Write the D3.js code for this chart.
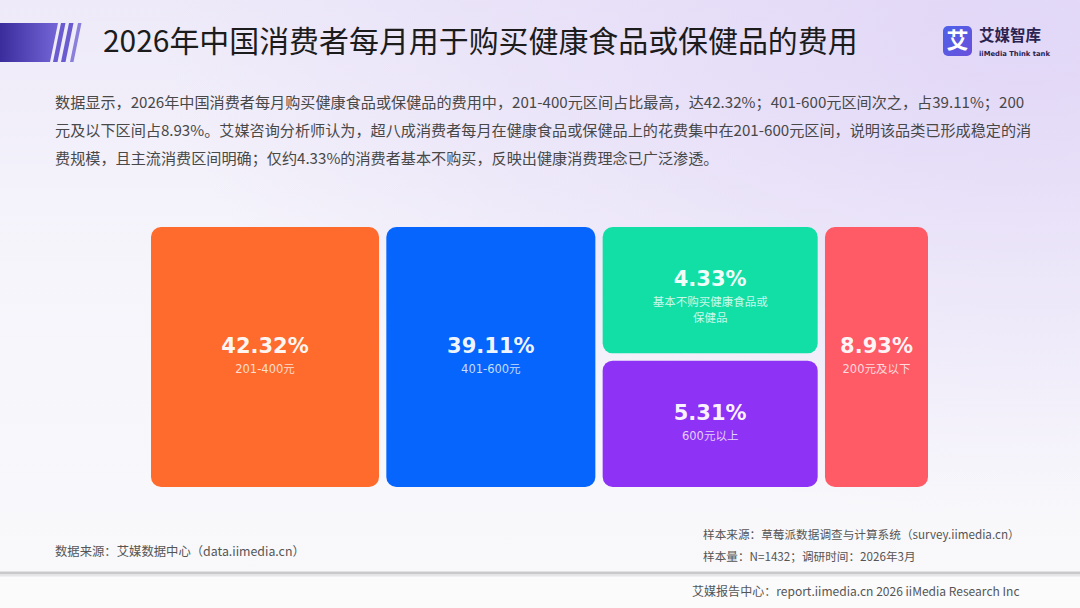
<!DOCTYPE html>
<html><head><meta charset="utf-8">
<script src="https://cdn.jsdelivr.net/npm/d3@7"></script>
<style>html,body{margin:0;padding:0;background:#fff;}svg{display:block;}</style>
</head><body>
<svg id="c" width="1080" height="608"></svg>
<script>
// ---- data ----
const categories = ['201-400元', '401-600元', '基本不购买健康食品或保健品', '600元以上', '200元及以下'];
const values = [42.32, 39.11, 4.33, 5.31, 8.93];
const colors = ['#FF6B2C', '#0565FD', '#12DFA6', '#8E33F6', '#FF5B66'];
const titleText = '2026年中国消费者每月用于购买健康食品或保健品的费用';
const paragraph = [
  '数据显示，2026年中国消费者每月购买健康食品或保健品的费用中，201-400元区间占比最高，达42.32%；401-600元区间次之，占39.11%；200',
  '元及以下区间占8.93%。艾媒咨询分析师认为，超八成消费者每月在健康食品或保健品上的花费集中在201-600元区间，说明该品类已形成稳定的消',
  '费规模，且主流消费区间明确；仅约4.33%的消费者基本不购买，反映出健康消费理念已广泛渗透。'
];
const sourceLeft = '数据来源：艾媒数据中心（data.iimedia.cn）';
const sourceRight = ['样本来源：草莓派数据调查与计算系统（survey.iimedia.cn）', '样本量：N=1432；调研时间：2026年3月'];
const footerText = '艾媒报告中心：report.iimedia.cn   2026 iiMedia Research Inc';

// ---- layout (column grouping and relative widths) ----
const columns = [{idx: [0], w: 228}, {idx: [1], w: 209}, {idx: [2, 3], w: 215}, {idx: [4], w: 103}];
const box = {x0: 151, x1: 928, y0: 227, y1: 487, gap: 7.3};

const svg = d3.select('#c');
const defs = svg.append('defs');
const CJK = '"Noto Sans CJK SC", "Noto Sans", sans-serif';

// background
const bg = defs.append('linearGradient').attr('id', 'bg').attr('x1', 0).attr('y1', 0).attr('x2', 0).attr('y2', 1);
bg.append('stop').attr('offset', 0).attr('stop-color', '#eeeaf9');
bg.append('stop').attr('offset', 0.45).attr('stop-color', '#f6f5fb');
bg.append('stop').attr('offset', 1).attr('stop-color', '#f9f9fb');
const bg2 = defs.append('radialGradient').attr('id', 'bg2').attr('cx', 0.95).attr('cy', 0.05).attr('r', 0.8);
bg2.append('stop').attr('offset', 0).attr('stop-color', '#e1d6f7').attr('stop-opacity', 0.95);
bg2.append('stop').attr('offset', 1).attr('stop-color', '#e1d6f7').attr('stop-opacity', 0);
svg.append('rect').attr('width', 1080).attr('height', 608).attr('fill', 'url(#bg)');
svg.append('rect').attr('width', 1080).attr('height', 608).attr('fill', 'url(#bg2)');
svg.append('rect').attr('y', 574).attr('width', 1080).attr('height', 34).attr('fill', '#fbfbfc');

// header bar
const hb = defs.append('linearGradient').attr('id', 'hb');
hb.append('stop').attr('offset', 0).attr('stop-color', '#3b2c9c');
hb.append('stop').attr('offset', 1).attr('stop-color', '#7466d6');
svg.append('path').attr('d', 'M0,23 L58,23 L50,62 L0,62 Z').attr('fill', 'url(#hb)');
[[61, 4.5, '#6a5bd0'], [69, 4.5, '#6a5bd0'], [78, 3.5, '#8a7fdb']].forEach(([x, w, c]) => {
  svg.append('path').attr('d', `M${x},23 L${x + w},23 L${x + w - 8},62 L${x - 8},62 Z`).attr('fill', c);
});

function fitText(sel, target) {
  const len = sel.node().getComputedTextLength();
  const fs = parseFloat(sel.attr('font-size'));
  sel.attr('font-size', fs * target / len);
  return fs * target / len;
}

// title
const title = svg.append('text').attr('x', 103).attr('y', 52).attr('font-family', CJK)
  .attr('font-size', 28).attr('fill', '#1c1c1c').text(titleText);
fitText(title, 755);

// logo
const lg = defs.append('linearGradient').attr('id', 'lg').attr('x1', 0).attr('y1', 0).attr('x2', 1).attr('y2', 1);
lg.append('stop').attr('offset', 0).attr('stop-color', '#4d63e8');
lg.append('stop').attr('offset', 1).attr('stop-color', '#6a4fdc');
svg.append('rect').attr('x', 943).attr('y', 26).attr('width', 29).attr('height', 30).attr('rx', 5).attr('fill', 'url(#lg)');
svg.append('text').attr('x', 957.5).attr('y', 48).attr('text-anchor', 'middle').attr('font-family', CJK)
  .attr('font-weight', 700).attr('font-size', 22).attr('fill', '#fff').text('艾');
const lt = svg.append('text').attr('x', 979).attr('y', 41).attr('font-family', CJK).attr('font-weight', 700)
  .attr('font-size', 16).attr('fill', '#2a2350').text('艾媒智库');
fitText(lt, 62);
const ls = svg.append('text').attr('x', 979).attr('y', 56).attr('font-family', '"DejaVu Sans", sans-serif').attr('font-weight', 700)
  .attr('font-size', 7).attr('fill', '#2a2350').text('iiMedia Think tank');
fitText(ls, 71);

// paragraph
const pTexts = svg.append('g').selectAll('text').data(paragraph).join('text')
  .attr('x', 55).attr('y', (d, i) => 108 + i * 28).attr('font-family', CJK)
  .attr('font-size', 14).attr('fill', '#484848').text(d => d);
{
  const n = pTexts.nodes()[0];
  const fs = 14 * 970 / n.getComputedTextLength();
  pTexts.attr('font-size', fs);
}

// ---- blocks ----
const cum = [0];
columns.forEach(c => cum.push(cum[cum.length - 1] + c.w));
const innerW = (box.x1 - box.x0) - box.gap * (columns.length - 1);
const xs = d3.scaleLinear().domain([0, cum[cum.length - 1]]).range([0, innerW]);
const cells = [];
columns.forEach((c, ci) => {
  const x = box.x0 + xs(cum[ci]) + ci * box.gap;
  const w = xs(c.w);
  const pad = c.idx.length > 1 ? box.gap / ((box.y1 - box.y0 + box.gap) / c.idx.length) : 0;
  const ys = d3.scaleBand().domain(c.idx).range([box.y0, box.y1]).paddingInner(pad).paddingOuter(0);
  c.idx.forEach(i => {
    cells.push({i, x, y: ys(i), w, h: ys.bandwidth(), cat: categories[i], val: values[i], color: colors[i]});
  });
});

const g = svg.append('g').selectAll('g').data(cells).join('g');
g.append('rect').attr('x', d => d.x).attr('y', d => d.y).attr('width', d => d.w).attr('height', d => d.h)
  .attr('rx', 10).attr('fill', d => d.color);
g.append('text').attr('x', d => d.x + d.w / 2).attr('y', d => d.y + d.h / 2 - 11)
  .attr('text-anchor', 'middle').attr('dominant-baseline', 'central')
  .attr('font-family', '"DejaVu Sans", sans-serif').attr('font-weight', 700).attr('font-size', 21)
  .attr('fill', '#fff').attr('fill-opacity', 0.95).text(d => d3.format('.2f')(d.val) + '%');
g.each(function (d) {
  const lines = [];
  for (let k = 0; k < d.cat.length; k += 10) lines.push(d.cat.slice(k, k + 10));
  d3.select(this).selectAll('text.lab').data(lines).join('text').attr('class', 'lab')
    .attr('x', d.x + d.w / 2).attr('y', (l, k) => d.y + d.h / 2 + 12 + k * 16)
    .attr('text-anchor', 'middle').attr('dominant-baseline', 'central')
    .attr('font-family', '"DejaVu Sans", "Noto Sans CJK SC", sans-serif').attr('font-size', 11.5)
    .attr('fill', '#fff').attr('fill-opacity', 0.78).text(l => l);
});

// footer
const sl = svg.append('text').attr('x', 55).attr('y', 556).attr('font-family', CJK).attr('font-size', 12)
  .attr('fill', '#555').text(sourceLeft);
fitText(sl, 250);
const sr = svg.append('g').selectAll('text').data(sourceRight).join('text')
  .attr('x', 703).attr('y', (d, i) => 539 + i * 21.5).attr('font-family', CJK).attr('font-size', 12)
  .attr('fill', '#555').text(d => d);
{
  const fs = 12 * 317 / sr.nodes()[0].getComputedTextLength();
  sr.attr('font-size', fs);
}
svg.append('rect').attr('x', 0).attr('y', 571.5).attr('width', 1080).attr('height', 3).attr('fill', '#c9c9cc');
svg.append('rect').attr('x', 0).attr('y', 574.5).attr('width', 1080).attr('height', 2).attr('fill', '#e6e6e8');
const ft = svg.append('text').attr('x', 692).attr('y', 596).attr('font-family', CJK).attr('font-size', 12)
  .attr('fill', '#555').text(footerText);
fitText(ft, 328);
</script>
</body></html>
